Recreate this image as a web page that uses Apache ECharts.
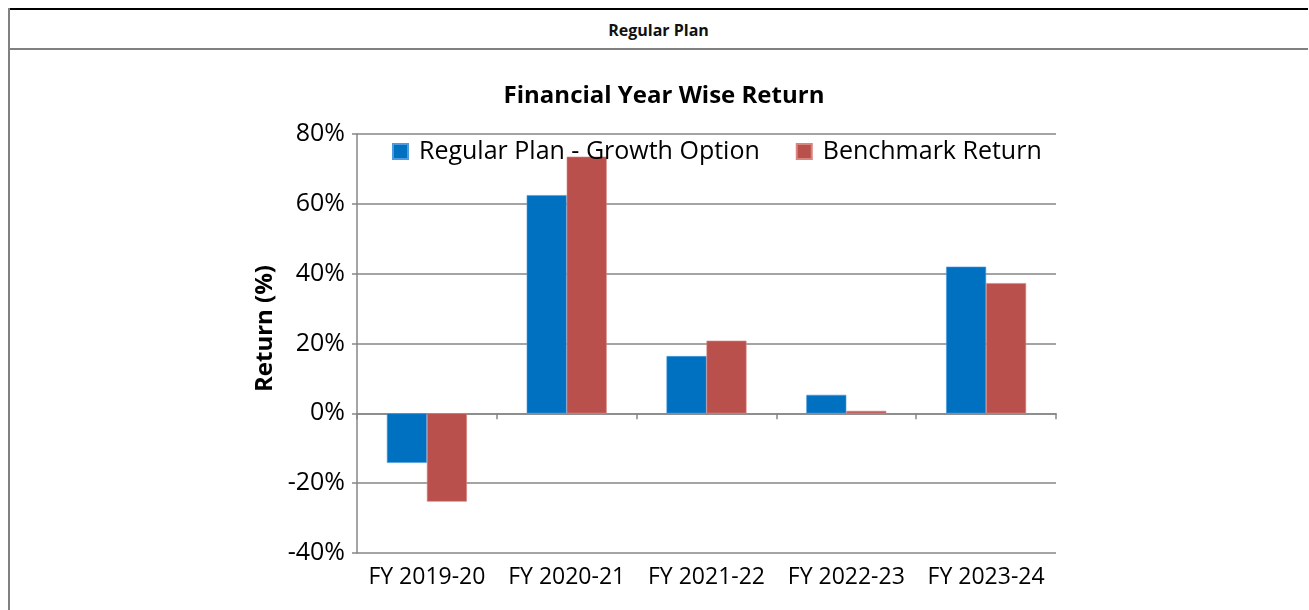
<!DOCTYPE html>
<html>
<head>
<meta charset="utf-8">
<title>Financial Year Wise Return</title>
<script src="https://cdn.jsdelivr.net/npm/echarts@6/dist/echarts.min.js"></script>
<style>
  html, body { margin: 0; padding: 0; background: #fff; }
  body { width: 1309px; height: 610px; position: relative; overflow: hidden; font-family: "Open Sans", sans-serif; }
  .line-top { position: absolute; left: 8px; top: 8px; width: 1300px; height: 2px; background: #000; }
  .line-left { position: absolute; left: 8px; top: 8px; width: 2px; height: 602px; background: #808080; }
  .line-head { position: absolute; left: 8px; top: 48px; width: 1300px; height: 2px; background: #808080; }
  .head-text { position: absolute; left: 8px; top: 10px; width: 1301px; height: 38px; line-height: 40px; text-align: center; font-weight: 700; font-size: 16px; color: #111; }
  #chart { position: absolute; left: 0; top: 0; width: 1309px; height: 610px; }
</style>
</head>
<body>
<div class="line-top"></div>
<div class="line-left"></div>
<div class="line-head"></div>
<div class="head-text">Regular Plan</div>
<div id="chart"></div>
<script>
const categories = ['FY 2019-20', 'FY 2020-21', 'FY 2021-22', 'FY 2022-23', 'FY 2023-24']
const regularPlan = [-14.2, 62.5, 16.4, 5.3, 42.0]
const benchmark = [-25.3, 73.5, 20.8, 0.7, 37.3]
const seriesNames = ['Regular Plan - Growth Option', 'Benchmark Return']

const gridColor = '#868686'
const chart = echarts.init(document.getElementById('chart'))

const option = {
  animation: false,
  textStyle: { fontFamily: 'Open Sans' },
  title: {
    text: 'Financial Year Wise Return',
    left: 659,
    top: 79,
    textAlign: 'center',
    textStyle: { fontSize: 24, fontWeight: 'bold', color: '#000' }
  },
  legend: {
    data: seriesNames,
    left: 387,
    top: 134,
    icon: 'rect',
    itemWidth: 15,
    itemHeight: 15,
    itemGap: 36,
    textStyle: { fontSize: 25, color: '#000', padding: [0, 0, 0, 6] }
  },
  graphic: [{
    type: 'text',
    left: 253,
    top: 265,
    rotation: Math.PI / 2,
    style: { text: 'Return (%)', fontSize: 24, fontWeight: 'bold', fill: '#000', fontFamily: 'Open Sans' }
  }],
  grid: { left: 357, right: 253, top: 134, bottom: 57 },
  xAxis: [{
    type: 'category',
    data: categories,
    axisLine: { onZero: true, lineStyle: { color: gridColor, width: 1.5 } },
    axisTick: { show: true, length: 6, lineStyle: { color: gridColor, width: 1.5 } },
    axisLabel: { show: false }
  }, {
    type: 'category',
    data: categories,
    position: 'bottom',
    axisLine: { show: false, onZero: false },
    axisTick: { show: false },
    axisLabel: { interval: 0, fontSize: 23, color: '#000', margin: 13 }
  }],
  yAxis: {
    type: 'value',
    min: -40,
    max: 80,
    interval: 20,
    axisLine: { show: true, lineStyle: { color: gridColor, width: 1.5 } },
    axisTick: { show: true, length: 5, lineStyle: { color: gridColor, width: 1.5 } },
    axisLabel: { formatter: '{value}%', fontSize: 25, color: '#000', margin: 12 },
    splitLine: { lineStyle: { color: gridColor, width: 1.5 } }
  },
  series: [{
    name: seriesNames[0],
    type: 'bar',
    data: regularPlan,
    barWidth: 40,
    barGap: '0%',
    itemStyle: { color: '#0070C0', borderColor: '#4a9be0', borderWidth: 0.6 }
  }, {
    name: seriesNames[1],
    type: 'bar',
    data: benchmark,
    barWidth: 40,
    itemStyle: { color: '#B9504C', borderColor: '#d9857f', borderWidth: 0.6 }
  }]
}

chart.setOption(option)
</script>
</body>
</html>
